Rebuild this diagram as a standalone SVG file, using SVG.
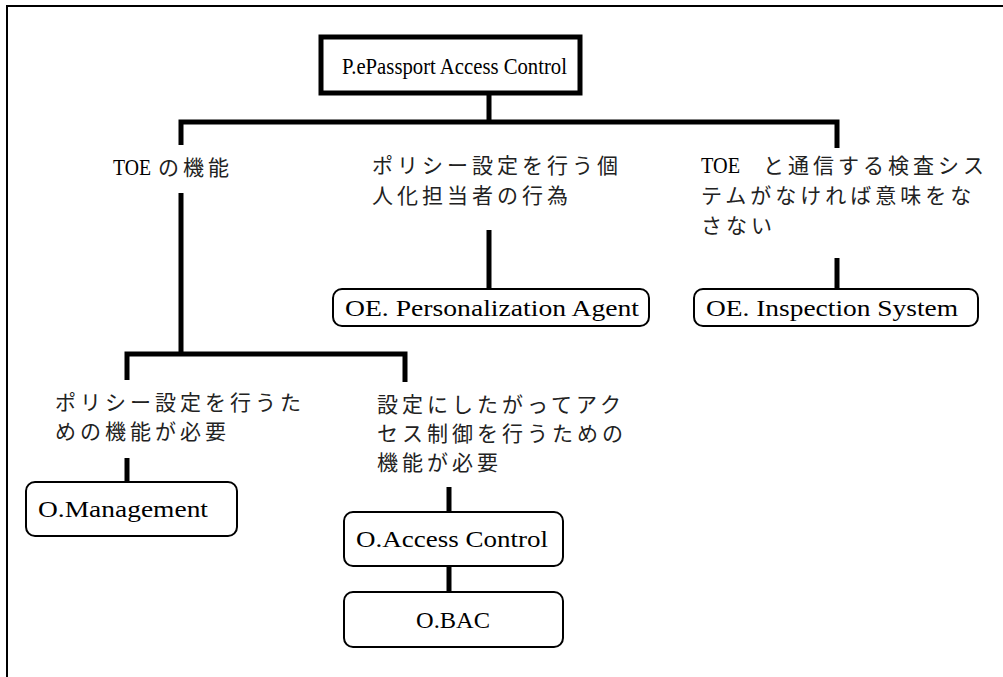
<svg xmlns="http://www.w3.org/2000/svg" width="1003" height="677" viewBox="0 0 1003 677">
<style>
.lat{font-family:"Liberation Serif","Noto Sans CJK JP",serif;font-size:24px;fill:#000}
.jp{font-family:"Noto Sans CJK JP",sans-serif;font-size:21px;letter-spacing:4px;fill:#222}
.tl{font-family:"Liberation Serif",serif;font-size:23px;letter-spacing:0;fill:#000}
.box{fill:#fff;stroke:#000;stroke-width:2}
.conn{stroke:#000;stroke-width:5;fill:none}
</style>
<rect width="1003" height="677" fill="#fff"/>
<path d="M7 677 V6 H1003" fill="none" stroke="#000" stroke-width="2"/>
<g id="connectors">
<path class="conn" d="M489 93 V122 M181 145 V122 H837 V148"/>
<path class="conn" d="M181 193 V354 M127 380 V354 H405 V382"/>
<path class="conn" d="M489 230 V289"/>
<path class="conn" d="M837 258 V289"/>
<path class="conn" d="M127 458 V482"/>
<path class="conn" d="M449 487 V512"/>
<path class="conn" d="M449 566 V592"/>
</g>
<g id="root">
<rect x="321" y="37" width="259" height="56" fill="#fff" stroke="#000" stroke-width="5"/>
<text class="lat" x="342" y="74" style="font-size:23px" textLength="225" lengthAdjust="spacingAndGlyphs">P.ePassport Access Control</text>
</g>
<g id="toe-func"><text class="jp" x="113" y="175"><tspan class="tl" textLength="38" lengthAdjust="spacingAndGlyphs">TOE</tspan><tspan x="158">の機能</tspan></text></g>
<g id="policy-agent">
<text class="jp" x="372" y="173">ポリシー設定を行う個</text>
<text class="jp" x="372" y="203">人化担当者の行為</text>
</g>
<g id="inspect-text">
<text class="jp" x="701" y="173"><tspan class="tl" textLength="39" lengthAdjust="spacingAndGlyphs">TOE</tspan><tspan x="763">と通信する検査シス</tspan></text>
<text class="jp" x="701" y="203">テムがなければ意味をな</text>
<text class="jp" x="701" y="233">さない</text>
</g>
<g id="oe-pa">
<rect class="box" x="333" y="289" width="316" height="37" rx="9"/>
<text class="lat" x="345" y="316" textLength="294" lengthAdjust="spacingAndGlyphs">OE. Personalization Agent</text>
</g>
<g id="oe-is">
<rect class="box" x="694" y="289" width="284" height="37" rx="9"/>
<text class="lat" x="706" y="316" textLength="252" lengthAdjust="spacingAndGlyphs">OE. Inspection System</text>
</g>
<g id="policy-func">
<text class="jp" x="55" y="410">ポリシー設定を行うた</text>
<text class="jp" x="55" y="439">めの機能が必要</text>
</g>
<g id="access-func">
<text class="jp" x="377" y="412">設定にしたがってアク</text>
<text class="jp" x="377" y="441">セス制御を行うための</text>
<text class="jp" x="377" y="470">機能が必要</text>
</g>
<g id="o-mgmt">
<rect class="box" x="26" y="482" width="211" height="54" rx="9"/>
<text class="lat" x="38" y="517" textLength="170" lengthAdjust="spacingAndGlyphs">O.Management</text>
</g>
<g id="o-ac">
<rect class="box" x="344" y="512" width="219" height="54" rx="9"/>
<text class="lat" x="356" y="547" textLength="192" lengthAdjust="spacingAndGlyphs">O.Access Control</text>
</g>
<g id="o-bac">
<rect class="box" x="344" y="592" width="219" height="55" rx="9"/>
<text class="lat" x="416" y="628" textLength="74" lengthAdjust="spacingAndGlyphs">O.BAC</text>
</g>
</svg>
